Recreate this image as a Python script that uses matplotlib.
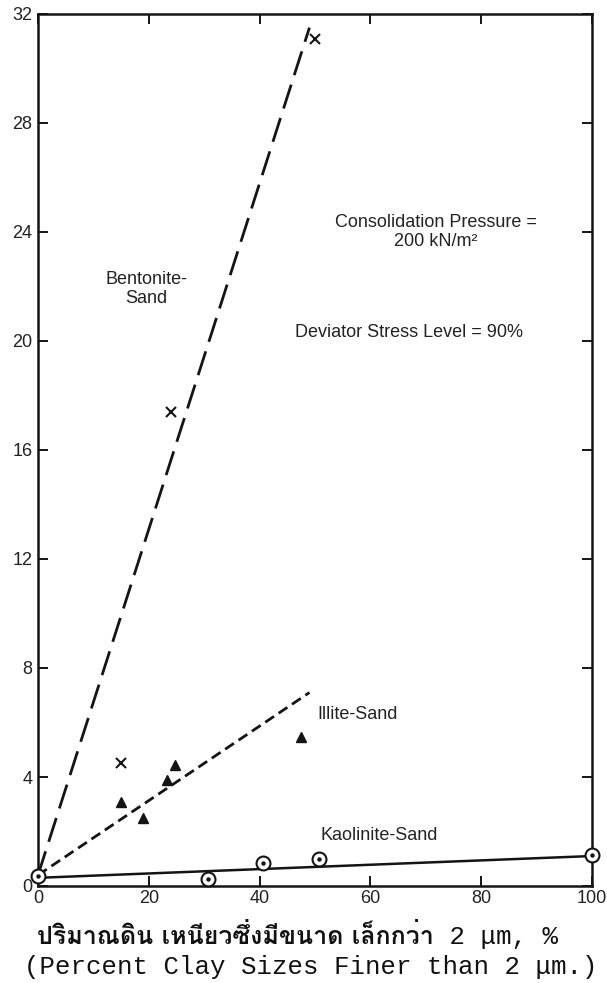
import matplotlib
matplotlib.use("Agg")
import matplotlib.pyplot as plt
import matplotlib.font_manager as fm
import matplotlib.patheffects as pe
from matplotlib.ft2font import FT2Font

# ---------------- data ----------------
bent_x = [15, 24, 50]
bent_y = [4.5, 17.4, 31.1]
bent_fit_x = [0, 49]
bent_fit_y = [0.4, 31.5]

illite_x = [15, 19, 23.3, 24.7, 47.5]
illite_y = [3.1, 2.5, 3.9, 4.45, 5.45]
illite_fit_x = [0, 49]
illite_fit_y = [0.4, 7.1]

kaol_x = [0, 30.7, 40.6, 50.7, 100]
kaol_y = [0.35, 0.26, 0.85, 1.0, 1.15]
kaol_fit_x = [0, 100]
kaol_fit_y = [0.3, 1.1]

x_ticks = [0, 20, 40, 60, 80, 100]
y_ticks = [0, 4, 8, 12, 16, 20, 24, 28, 32]

thai_label = "ปริมาณดิน เหนียวซึ่งมีขนาด เล็กกว่า"
mono_label_tail = " 2 μm, %"
mono_label = "(Percent Clay Sizes Finer than 2 μm.)"

INK = "#141414"
SANS = ["Liberation Sans", "DejaVu Sans"]


def find_thai_font():
    best = None
    best_score = -1
    for f in fm.fontManager.ttflist:
        try:
            cm = FT2Font(f.fname).get_charmap()
        except Exception:
            continue
        if ord("ป") in cm and ord("ึ") in cm and ord("่") in cm:
            w = f.weight
            if isinstance(w, str):
                w = {"bold": 700, "semibold": 600, "demibold": 600, "heavy": 800,
                     "black": 900, "medium": 500}.get(w.lower(), 400)
            score = 10 if 600 <= w <= 800 else (5 if w == 400 else 1)
            if f.style == "normal":
                score += 2
            if score > best_score:
                best_score = score
                best = f
    return best


fig = plt.figure(figsize=(6.07, 9.83), dpi=100)
W, H = 607, 983
ax = fig.add_axes([38 / W, 1 - 886 / H, (592 - 38) / W, (886 - 14) / H])

# fitted lines
ax.plot(bent_fit_x, bent_fit_y, color=INK, lw=2.0, dashes=(9.0, 3.6),
        dash_capstyle="butt")
ax.plot(illite_fit_x, illite_fit_y, color=INK, lw=2.0, dashes=(3.8, 2.0),
        dash_capstyle="butt")
ax.plot(kaol_fit_x, kaol_fit_y, color=INK, lw=1.8)

# points
ax.plot(bent_x, bent_y, linestyle="none", marker="x", ms=7, mew=1.5, color=INK)
ax.plot(illite_x, illite_y, linestyle="none", marker="^", ms=7.5, color=INK)
ax.plot(kaol_x, kaol_y, linestyle="none", marker="o", ms=10, mew=1.5,
        mfc="white", mec=INK, clip_on=False, zorder=5)
ax.plot(kaol_x, kaol_y, linestyle="none", marker="o", ms=2.2, color=INK,
        clip_on=False, zorder=6)

ax.set_xlim(0, 100)
ax.set_ylim(0, 32)
ax.set_xticks(x_ticks)
ax.set_yticks(y_ticks)
ax.set_xticklabels([str(v) for v in x_ticks])
ax.set_yticklabels([str(v) for v in y_ticks])
ax.tick_params(direction="in", length=7, width=1.4, color=INK,
               top=True, right=True, labelsize=13, labelcolor="#222222")
ax.tick_params(axis="y", pad=4)
ax.tick_params(axis="x", pad=3)
for lab in ax.get_xticklabels() + ax.get_yticklabels():
    lab.set_family(SANS)
for sp in ax.spines.values():
    sp.set_linewidth(1.8)
    sp.set_color(INK)

txt_kw = dict(family=SANS, fontsize=13, color="#222222", ha="center", va="center")
ax.text(19.5, 21.9, "Bentonite-\nSand", linespacing=1.15, **txt_kw)
ax.text(71.8, 24.0, "Consolidation Pressure =\n200 kN/m²", linespacing=1.15, **txt_kw)
ax.text(67.0, 20.3, "Deviator Stress Level = 90%", **txt_kw)
ax.text(57.7, 6.3, "Illite-Sand", **txt_kw)
ax.text(61.5, 1.85, "Kaolinite-Sand", **txt_kw)

# x-axis caption lines
tf = find_thai_font()
if tf is not None:
    tprops = fm.FontProperties(fname=tf.fname, size=18)
else:
    tprops = fm.FontProperties(family=SANS, size=18)
t1 = fig.text(37 / W, 1 - 944 / H, thai_label, fontproperties=tprops,
              color="#111111", ha="left", va="baseline")
if tf is not None and not (isinstance(tf.weight, int) and tf.weight >= 600
                           or str(tf.weight).lower() in ("bold", "semibold")):
    t1.set_path_effects([pe.withStroke(linewidth=0.9, foreground="#111111")])
fig.canvas.draw()
bb = t1.get_window_extent(renderer=fig.canvas.get_renderer())
fig.text(bb.x1 / W, 1 - 944 / H, mono_label_tail, family=["Liberation Mono", "DejaVu Sans Mono"],
         fontsize=18.5, color="#111111", ha="left", va="baseline")
fig.text(24 / W, 1 - 974 / H, mono_label, family=["Liberation Mono", "DejaVu Sans Mono"],
         fontsize=18.5, color="#111111", ha="left", va="baseline")

fig.savefig("out.png", dpi=100, facecolor="white")
